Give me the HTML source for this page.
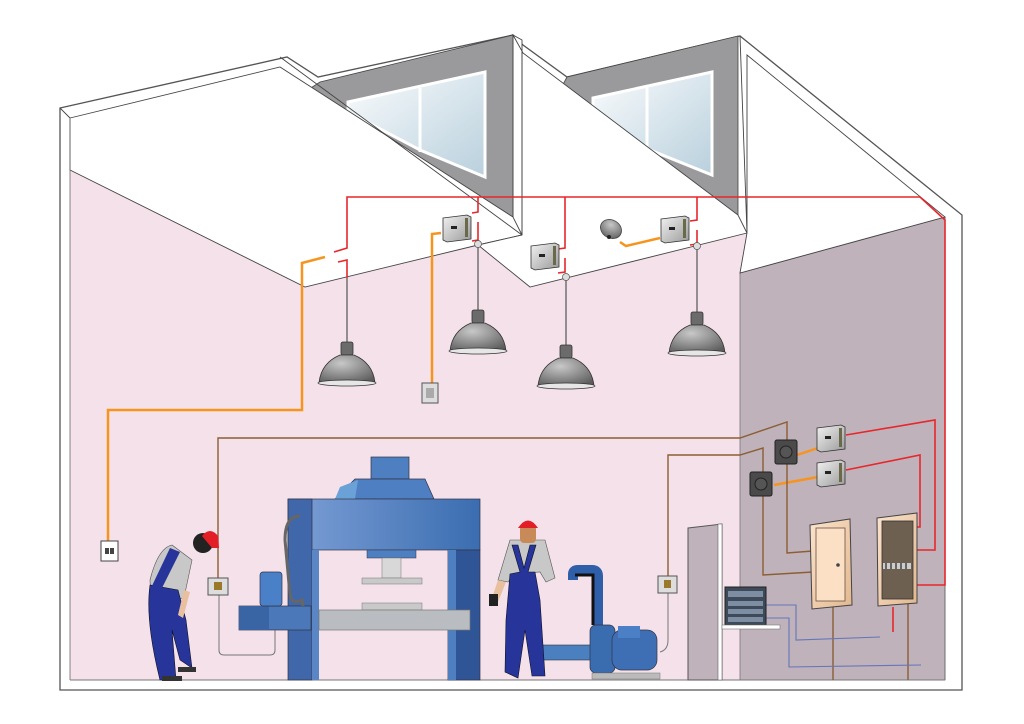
<!DOCTYPE html>
<html><head><meta charset="utf-8"><style>html,body{margin:0;padding:0;background:#fff}svg{display:block}</style></head>
<body>
<svg width="1024" height="724" viewBox="0 0 1024 724" xmlns="http://www.w3.org/2000/svg" font-family="Liberation Sans, sans-serif">
<defs>
<linearGradient id="win" x1="0" y1="0" x2="1" y2="1"><stop offset="0" stop-color="#fafcfd"/><stop offset="1" stop-color="#b9d0dd"/></linearGradient>
<linearGradient id="blue" x1="0" y1="0" x2="1" y2="0"><stop offset="0" stop-color="#7d9fd6"/><stop offset="1" stop-color="#3a6db0"/></linearGradient>
<radialGradient id="lamp" cx="0.4" cy="0.3" r="0.8"><stop offset="0" stop-color="#c8c8c8"/><stop offset="1" stop-color="#5a5a5a"/></radialGradient>
<linearGradient id="peach" x1="0" y1="0" x2="1" y2="1"><stop offset="0" stop-color="#fbe3cc"/><stop offset="1" stop-color="#e2b88f"/></linearGradient>
<linearGradient id="dev" x1="0" y1="0" x2="1" y2="1"><stop offset="0" stop-color="#f2f2f2"/><stop offset="1" stop-color="#9a9a9a"/></linearGradient>
<g id="lampS">
<rect x="-6" y="-23" width="12" height="13" rx="2" fill="#6b6b6b" stroke="#333" stroke-width="0.8"/>
<path d="M-7,-10 L7,-10 Q26,-2 28,18 L-28,18 Q-26,-2 -7,-10 Z" fill="url(#lamp)" stroke="#333" stroke-width="0.8"/>
<ellipse cx="0" cy="18" rx="29" ry="3" fill="#e6e6e6" stroke="#333" stroke-width="0.8"/>
</g>
<g id="devS">
<path d="M0,3 L24,0 L28,2 L28,24 L4,27 L0,25 Z" fill="url(#dev)" stroke="#333" stroke-width="0.8"/>
<rect x="8" y="11" width="6" height="3" fill="#222"/>
<rect x="22" y="3" width="3" height="19" fill="#6a6a4a"/>
</g>
<g id="sockS">
<rect x="0" y="0" width="22" height="24" rx="2" fill="#4a4a4a" stroke="#222"/>
<circle cx="11" cy="12" r="6" fill="#555" stroke="#222"/>
</g>
</defs>

<path d="M60,690 L60,108 L287,57 L318,77 L513,35 L523,45 L567,77 L740,36 L962,215 L962,690 Z" fill="#fff" stroke="#555" stroke-width="1.3"/>

<polygon points="70,170 305,287 478,245 530,287 747,233 747,680 70,680" fill="#f4e1ea"/>
<polygon points="740,273 945,217 945,680 740,680" fill="#bfb2bb" stroke="#777" stroke-width="0.8"/>

<polygon points="320,82 513,35 513,217 300,95" fill="#9a9a9c" stroke="#444" stroke-width="0.8"/>
<polygon points="348,102 485,72 485,177 420,150 348,112" fill="url(#win)" stroke="#fff" stroke-width="3"/>
<line x1="420" y1="88" x2="420" y2="152" stroke="#fff" stroke-width="3"/>
<polygon points="567,77 738,36 738,215 560,90" fill="#9a9a9c" stroke="#444" stroke-width="0.8"/>
<polygon points="593,98 712,72 712,175 650,150 593,110" fill="url(#win)" stroke="#fff" stroke-width="3"/>
<line x1="647" y1="86" x2="647" y2="152" stroke="#fff" stroke-width="3"/>

<polygon points="70,118 280,67 513,217 522,235 478,245 305,287 70,170" fill="#fff" stroke="#444" stroke-width="0.9"/>
<line x1="280" y1="57" x2="522" y2="235" stroke="#444" stroke-width="0.9"/>
<line x1="60" y1="108" x2="70" y2="118" stroke="#444" stroke-width="0.9"/>
<line x1="70" y1="118" x2="70" y2="680" stroke="#666" stroke-width="0.8"/>
<polygon points="513,35 523,53 738,215 747,233 530,287 478,245 522,235 522,40" fill="#fff" stroke="#444" stroke-width="0.9"/>
<line x1="522" y1="52" x2="522" y2="235" stroke="#444" stroke-width="0.9"/>
<line x1="513" y1="35" x2="513" y2="217" stroke="#444" stroke-width="0.9"/>
<line x1="740" y1="36" x2="747" y2="233" stroke="#444" stroke-width="0.9"/>
<polygon points="747,55 945,217 740,273 747,233" fill="#fff" stroke="#444" stroke-width="0.9"/>
<line x1="945" y1="217" x2="945" y2="680" stroke="#666" stroke-width="0.8"/>
<line x1="70" y1="680" x2="945" y2="680" stroke="#777" stroke-width="1"/>

<g fill="none" stroke="#e8262b" stroke-width="1.6">
<path d="M334,252 L347,248 L347,197 L920,197 L945,220 L945,585 L905,585"/>
<path d="M338,262 L347,260 L347,278"/>
<path d="M478,197 L478,212 L472,213 M478,222 L478,240 L472,241"/>
<path d="M565,197 L565,248 L558,249 M565,258 L565,272 L558,273"/>
<path d="M697,197 L697,220 L690,221 M697,230 L697,244 L690,245"/>
<path d="M846,435 L935,420 L935,550 L905,550"/>
<path d="M846,470 L920,455 L920,527 L905,527"/>
<path d="M893,607 L893,632"/>
</g>
<g fill="none" stroke="#f7941d" stroke-width="2.5">
<path d="M325,257 L302,263 L302,410 L108,410 L108,542"/>
<path d="M441,233 L432,234 L432,385"/>
<path d="M620,242 L626,246 L660,238"/>
<path d="M797,455 L818,448"/>
<path d="M774,485 L818,477"/>
</g>
<g fill="none" stroke="#8b5e34" stroke-width="1.4">
<path d="M218,578 L218,438 L740,438 L787,422 L787,553 L813,551"/>
<path d="M668,577 L668,455 L740,455 L763,448 L763,575 L813,572"/>
<path d="M833,607 L833,680 M908,603 L908,680"/>
</g>
<path d="M219,595 L219,650 Q219,655 224,655 L270,655 Q275,655 275,650 L275,628" fill="none" stroke="#777" stroke-width="1"/>
<path d="M668,593 L668,640 Q668,650 660,652" fill="none" stroke="#777" stroke-width="1"/>
<g fill="none" stroke="#6475b8" stroke-width="1.1">
<path d="M766,605 L796,605 L796,640 L880,637"/>
<path d="M766,618 L789,618 L789,667 L921,665"/>
</g>

<!-- lamp cords -->
<g stroke="#555" stroke-width="1.2">
<line x1="347" y1="278" x2="347" y2="343"/>
<line x1="478" y1="244" x2="478" y2="311"/>
<line x1="566" y1="277" x2="566" y2="346"/>
<line x1="697" y1="246" x2="697" y2="313"/>
</g>
<use href="#lampS" x="347" y="365"/>
<use href="#lampS" x="478" y="333"/>
<use href="#lampS" x="566" y="368"/>
<use href="#lampS" x="697" y="335"/>
<circle cx="478" cy="244" r="3.5" fill="#ddd" stroke="#555" stroke-width="0.7"/>
<circle cx="566" cy="277" r="3.5" fill="#ddd" stroke="#555" stroke-width="0.7"/>
<circle cx="697" cy="246" r="3.5" fill="#ddd" stroke="#555" stroke-width="0.7"/>

<use href="#devS" x="443" y="215"/>
<use href="#devS" x="531" y="243"/>
<use href="#devS" x="661" y="216"/>
<use href="#devS" x="817" y="425"/>
<use href="#devS" x="817" y="460"/>
<use href="#sockS" x="775" y="440"/>
<use href="#sockS" x="750" y="472"/>
<ellipse cx="611" cy="229" rx="11" ry="9" fill="url(#lamp)" stroke="#444" stroke-width="0.8" transform="rotate(30 611 229)"/>
<circle cx="609" cy="237" r="2" fill="#222"/>
<rect x="422" y="383" width="16" height="20" fill="#ddd" stroke="#555"/>
<rect x="426" y="388" width="8" height="10" fill="#aaa"/>
<rect x="101" y="541" width="17" height="20" fill="#fff" stroke="#444"/>
<rect x="105" y="548" width="4" height="6" fill="#444"/><rect x="110" y="548" width="4" height="6" fill="#444"/>
<rect x="208" y="578" width="20" height="17" fill="#ddd" stroke="#555"/>
<rect x="214" y="582" width="8" height="8" fill="#9a7a2a"/>
<rect x="658" y="576" width="19" height="17" fill="#ddd" stroke="#555"/>
<rect x="664" y="580" width="7" height="8" fill="#9a7a2a"/>

<polygon points="810,525 850,519 852,605 812,609" fill="url(#peach)" stroke="#444"/>
<rect x="816" y="528" width="29" height="73" fill="#fbe0c6" stroke="#6a5040" stroke-width="0.8"/>
<circle cx="838" cy="565" r="1.8" fill="#444"/>
<polygon points="877,518 917,513 917,603 878,606" fill="url(#peach)" stroke="#444"/>
<rect x="882" y="521" width="31" height="78" fill="#6e6050" stroke="#333" stroke-width="0.8"/>
<rect x="883" y="563" width="28" height="6" fill="#ccc"/>
<g stroke="#222" stroke-width="1.2"><line x1="886" y1="563" x2="886" y2="569"/><line x1="891" y1="563" x2="891" y2="569"/><line x1="896" y1="563" x2="896" y2="569"/><line x1="901" y1="563" x2="901" y2="569"/><line x1="906" y1="563" x2="906" y2="569"/></g>

<polygon points="688,528 722,524 722,680 688,680" fill="#bfb2bb" stroke="#555"/>
<rect x="718" y="524" width="4" height="156" fill="#fff" stroke="#666" stroke-width="0.6"/>
<rect x="725" y="587" width="41" height="38" fill="#3e4a5a" stroke="#222"/>
<rect x="728" y="591" width="35" height="6" fill="#7d8ea3"/><rect x="728" y="601" width="35" height="5" fill="#7d8ea3"/><rect x="728" y="609" width="35" height="5" fill="#7d8ea3"/><rect x="728" y="617" width="35" height="5" fill="#7d8ea3"/>
<rect x="722" y="625" width="58" height="4" fill="#fff" stroke="#777" stroke-width="0.6"/>

<rect x="371" y="457" width="38" height="22" fill="#4e7fc0" stroke="#334" stroke-width="0.7"/>
<polygon points="335,499 355,479 425,479 434,499" fill="#4f7fc3" stroke="#334" stroke-width="0.7"/>
<polygon points="335,499 340,487 358,480 355,499" fill="#6aa2d8"/>
<rect x="288" y="499" width="192" height="51" fill="url(#blue)" stroke="#334" stroke-width="0.7"/>
<rect x="288" y="499" width="24" height="181" fill="#3f67aa" stroke="#334" stroke-width="0.7"/>
<rect x="312" y="550" width="7" height="130" fill="#5a86c6"/>
<rect x="448" y="550" width="32" height="130" fill="#2f5597" stroke="#334" stroke-width="0.7"/>
<rect x="448" y="550" width="8" height="130" fill="#4e7fc0"/>
<rect x="367" y="550" width="49" height="8" fill="#4e7fc0" stroke="#334" stroke-width="0.5"/>
<rect x="382" y="558" width="19" height="20" fill="#d8d8d8" stroke="#777" stroke-width="0.5"/>
<rect x="362" y="578" width="60" height="6" fill="#c9c9c9" stroke="#777" stroke-width="0.5"/>
<rect x="362" y="603" width="60" height="7" fill="#c9c9c9" stroke="#777" stroke-width="0.5"/>
<rect x="319" y="610" width="151" height="20" fill="#b9bcc0" stroke="#777" stroke-width="0.7"/>
<rect x="239" y="606" width="72" height="24" fill="#4a78b8" stroke="#334" stroke-width="0.7"/>
<rect x="239" y="606" width="30" height="24" fill="#3a65a5"/>
<rect x="260" y="572" width="22" height="34" rx="3" fill="#4a80c8" stroke="#334" stroke-width="0.7"/>
<path d="M300,516 Q285,516 285,540 L290,595 Q292,605 302,600 L303,606" fill="none" stroke="#666" stroke-width="3"/>

<path d="M573,580 L573,574 Q573,570 578,570 L592,570 Q598,570 598,576 L598,625" fill="none" stroke="#2f5fa8" stroke-width="10"/>
<path d="M575,575 L593,575 L593,625" fill="none" stroke="#111" stroke-width="3"/>
<rect x="530" y="645" width="70" height="15" fill="#4a80c0" stroke="#334" stroke-width="0.6"/>
<rect x="590" y="625" width="25" height="48" rx="6" fill="#3a6cb0" stroke="#334" stroke-width="0.7"/>
<rect x="612" y="630" width="45" height="40" rx="10" fill="#3e6fb5" stroke="#334" stroke-width="0.7"/>
<rect x="618" y="626" width="22" height="12" fill="#4c80c6"/>
<rect x="592" y="673" width="68" height="6" fill="#bbb" stroke="#777" stroke-width="0.5"/>

<g>
<path d="M172,545 Q158,548 150,580 Q150,595 160,600 L184,598 L192,560 Z" fill="#c8c8c8" stroke="#555" stroke-width="0.6"/>
<path d="M150,585 Q145,620 160,680 L176,680 L172,630 L180,660 L192,668 L186,620 L178,590 Z" fill="#27359a" stroke="#112" stroke-width="0.6"/>
<path d="M170,548 L150,590 L160,592 L180,552 Z" fill="#27359a"/>
<path d="M184,590 L178,615 L183,618 L190,592 Z" fill="#e8c0a0"/>
<rect x="162" y="676" width="20" height="5" fill="#333"/><rect x="178" y="667" width="18" height="5" fill="#333"/>
<circle cx="203" cy="543" r="10" fill="#222"/>
<path d="M202,536 Q210,526 218,536 L219,548 L212,548 Z" fill="#e21f26"/>
</g>
<g>
<path d="M510,540 L545,540 L555,578 L546,582 L540,572 L514,574 L508,582 L498,580 Z" fill="#c8c8c8" stroke="#555" stroke-width="0.6"/>
<path d="M512,545 L520,572 L510,574 L506,620 L505,672 L518,678 L525,630 L532,676 L545,676 L540,600 L535,572 L528,572 L536,545 L530,545 L524,568 L518,545 Z" fill="#27359a" stroke="#112" stroke-width="0.6"/>
<path d="M498,580 L492,598 L498,602 L506,582 Z" fill="#e8c0a0"/>
<rect x="489" y="594" width="9" height="12" fill="#222"/>
<rect x="520" y="525" width="16" height="18" rx="4" fill="#c98a5a"/>
<path d="M518,528 Q528,513 538,528 Z" fill="#e21f26"/>
</g>
</svg>
</body></html>
